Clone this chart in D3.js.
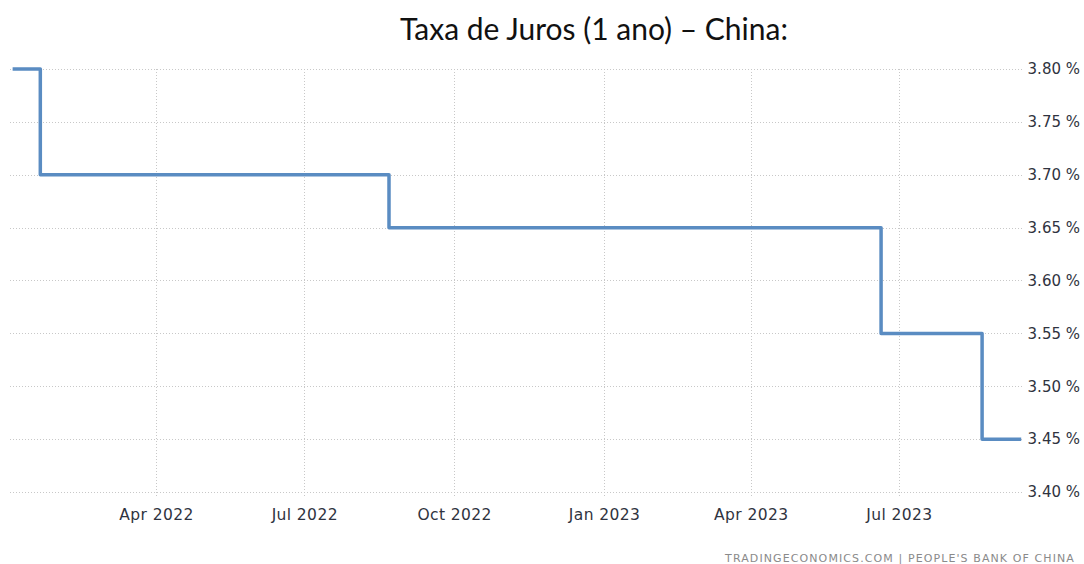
<!DOCTYPE html>
<html>
<head>
<meta charset="utf-8">
<script src="https://cdn.jsdelivr.net/npm/d3@7"></script>
<style>
  body { margin: 0; background: #fff; }
  svg { display: block; }
</style>
</head>
<body>
<svg width="1084" height="564"></svg>
<script>
// LPR 1 ano - China (pontos de mudança)
var dates = ["2022-01-03", "2022-01-20", "2022-08-22", "2023-06-20", "2023-08-21", "2023-09-14"];
var rates = [3.80, 3.70, 3.65, 3.55, 3.45, 3.45];
var yTicks = [3.40, 3.45, 3.50, 3.55, 3.60, 3.65, 3.70, 3.75, 3.80];
var xTicks = ["2022-04-01", "2022-07-01", "2022-10-01", "2023-01-01", "2023-04-01", "2023-07-01"];

var parse = d3.timeParse("%Y-%m-%d");
var data = dates.map((d, i) => ({ date: parse(d), value: rates[i] }));

var svg = d3.select("svg");

var x = d3.scaleTime()
    .domain([parse("2022-04-01"), parse("2023-07-01")])
    .range([156, 899]);
var y = d3.scaleLinear()
    .domain([3.40, 3.80])
    .range([492, 69]);

var left = 10, right = 1022;

// grid horizontal
svg.append("g").selectAll("line")
    .data(yTicks)
    .enter().append("line")
    .attr("x1", left).attr("x2", right)
    .attr("y1", d => Math.round(y(d)) + 0.5)
    .attr("y2", d => Math.round(y(d)) + 0.5)
    .style("stroke", "#c8c8c8")
    .style("stroke-dasharray", "1,2");

// grid vertical
svg.append("g").selectAll("line")
    .data(xTicks.map(parse))
    .enter().append("line")
    .attr("x1", d => Math.round(x(d)) + 0.5)
    .attr("x2", d => Math.round(x(d)) + 0.5)
    .attr("y1", 69).attr("y2", 497)
    .style("stroke", "#c8c8c8")
    .style("stroke-dasharray", "1,2");

// eixo direito
var yAxis = svg.append("g")
    .attr("transform", "translate(1080,0)")
    .call(d3.axisRight(y).tickValues(yTicks).tickSize(0).tickFormat(d => d3.format(".2f")(d) + " %"));
yAxis.select(".domain").remove();
yAxis.selectAll("text")
    .attr("x", 0)
    .attr("text-anchor", "end")
    .style("font-family", "'DejaVu Sans', sans-serif")
    .style("font-size", "15px")
    .style("fill", "#2f3340");

// eixo x
var xAxis = svg.append("g")
    .attr("transform", "translate(0,492)")
    .call(d3.axisBottom(x).tickValues(xTicks.map(parse)).tickSize(0).tickFormat(d3.timeFormat("%b %Y")));
xAxis.select(".domain").remove();
xAxis.selectAll("text")
    .attr("y", 17)
    .style("font-family", "'DejaVu Sans', sans-serif")
    .style("font-size", "15.5px")
    .style("letter-spacing", "0.4px")
    .style("fill", "#2f3340");

// linha
var line = d3.line()
    .x(d => x(d.date))
    .y(d => y(d.value))
    .curve(d3.curveStepAfter);

svg.append("path")
    .datum(data)
    .attr("d", line)
    .style("fill", "none")
    .style("stroke", "#5a8cc2")
    .style("stroke-width", 3.5)
    .style("stroke-linejoin", "round");

// titulo
svg.append("text")
    .attr("x", 594).attr("y", 40)
    .attr("text-anchor", "middle")
    .style("font-family", "Lato, 'Open Sans', sans-serif")
    .style("font-size", "30px")
    .style("fill", "#111")
    .text("Taxa de Juros (1 ano) – China:");

// fonte
svg.append("text")
    .attr("x", 1075).attr("y", 562)
    .attr("text-anchor", "end")
    .style("font-family", "'DejaVu Sans', sans-serif")
    .style("font-size", "11px")
    .style("letter-spacing", "1.1px")
    .style("fill", "#8a8a8a")
    .text("TRADINGECONOMICS.COM  |  PEOPLE'S BANK OF CHINA");
</script>
</body>
</html>
